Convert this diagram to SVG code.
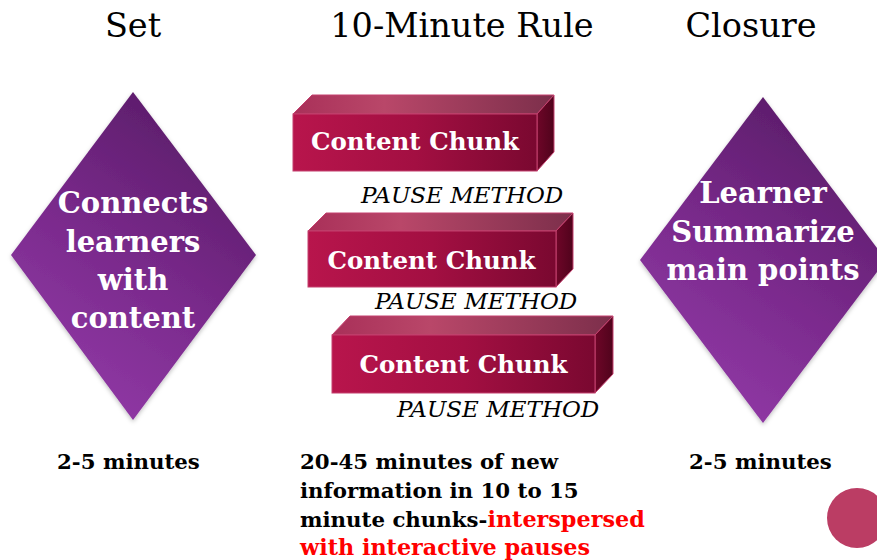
<svg xmlns="http://www.w3.org/2000/svg" width="877" height="560" viewBox="0 0 877 560">
  <style>
    .title { font-family: "DejaVu Serif", "Liberation Serif", serif; font-size: 33.5px; fill: #000; text-anchor: middle; }
    .dtext { font-family: "DejaVu Serif", "Liberation Serif", serif; font-size: 29px; font-weight: bold; fill: #fff; text-anchor: middle; }
    .ctext { font-family: "DejaVu Serif", "Liberation Serif", serif; font-size: 24.5px; font-weight: bold; fill: #fff; text-anchor: middle; }
    .pause { font-family: "DejaVu Serif", "Liberation Serif", serif; font-size: 23px; font-style: italic; fill: #000; }
    .note { font-family: "DejaVu Serif", "Liberation Serif", serif; font-size: 21.3px; font-weight: bold; fill: #000; }
    .red { fill: #ff0000; font-size: 22.3px; }
    .front { fill: url(#frontGrad); stroke: #c4406e; stroke-width: 1; }
    .top { fill: url(#topGrad); stroke: #c4406e; stroke-width: 1; }
    .side { fill: url(#sideGrad); stroke: #c4406e; stroke-width: 1; }
    .diamond { fill: url(#diamondGrad); filter: url(#soft); }
  </style>
  <defs>
    <linearGradient id="diamondGrad" x1="0.75" y1="0" x2="0.25" y2="0.95">
      <stop offset="0" stop-color="#581b66"/>
      <stop offset="0.55" stop-color="#7a2a8c"/>
      <stop offset="1" stop-color="#9139a6"/>
    </linearGradient>
    <linearGradient id="frontGrad" x1="0" y1="0" x2="1" y2="0">
      <stop offset="0" stop-color="#b8154c"/>
      <stop offset="0.5" stop-color="#a30f42"/>
      <stop offset="1" stop-color="#7a0830"/>
    </linearGradient>
    <linearGradient id="topGrad" x1="0" y1="0" x2="1" y2="0">
      <stop offset="0" stop-color="#a93059"/>
      <stop offset="0.35" stop-color="#b94769"/>
      <stop offset="1" stop-color="#7c2f4b"/>
    </linearGradient>
    <linearGradient id="sideGrad" x1="0" y1="0" x2="1" y2="0">
      <stop offset="0" stop-color="#6e0628"/>
      <stop offset="1" stop-color="#50031c"/>
    </linearGradient>
    <filter id="soft" x="-10%" y="-10%" width="120%" height="120%">
      <feDropShadow dx="0" dy="2" stdDeviation="2" flood-color="#000" flood-opacity="0.25"/>
    </filter>
  </defs>

  <!-- column headings -->
  <g id="headings">
    <text class="title" x="133" y="37">Set</text>
    <text class="title" x="462" y="37">10-Minute Rule</text>
    <text class="title" x="751" y="37">Closure</text>
  </g>

  <!-- opening phase -->
  <g id="set-node">
    <polygon class="diamond" points="133,92 256,255 133,420 11,255"/>
    <text class="dtext" x="133" y="213">Connects</text>
    <text class="dtext" x="133" y="252">learners</text>
    <text class="dtext" x="133" y="290">with</text>
    <text class="dtext" x="133" y="328">content</text>
  </g>

  <!-- closing phase -->
  <g id="closure-node">
    <polygon class="diamond" points="763,97 886,260 763,423 640,260"/>
    <text class="dtext" x="763" y="203">Learner</text>
    <text class="dtext" x="763" y="242">Summarize</text>
    <text class="dtext" x="763" y="280">main points</text>
  </g>

  <!-- content chunks -->
  <g id="chunk-1">
    <polygon class="top" points="293,114 312,95 554,95 537,114"/>
    <polygon class="side" points="537,114 554,95 554,152 537,171"/>
    <rect class="front" x="293" y="114" width="244" height="57"/>
    <text class="ctext" x="415" y="150">Content Chunk</text>
  </g>
  <text class="pause" x="361" y="203">PAUSE METHOD</text>

  <g id="chunk-2">
    <polygon class="top" points="308,231 326,213 573,213 556,231"/>
    <polygon class="side" points="556,231 573,213 573,269 556,287"/>
    <rect class="front" x="308" y="231" width="248" height="56"/>
    <text class="ctext" x="431.5" y="269">Content Chunk</text>
  </g>
  <text class="pause" x="375" y="309">PAUSE METHOD</text>

  <g id="chunk-3">
    <polygon class="top" points="332,335 350,316 613,316 595,335"/>
    <polygon class="side" points="595,335 613,316 613,374 595,393"/>
    <rect class="front" x="332" y="335" width="263" height="58"/>
    <text class="ctext" x="463.5" y="373">Content Chunk</text>
  </g>
  <text class="pause" x="397" y="417">PAUSE METHOD</text>

  <!-- timing notes -->
  <g id="notes">
    <text class="note" x="57" y="469">2-5 minutes</text>
    <text class="note" x="689" y="469">2-5 minutes</text>
    <text class="note" x="300" y="469">20-45 minutes of new</text>
    <text class="note" x="300" y="498">information in 10 to 15</text>
    <text class="note" x="300" y="527">minute chunks-<tspan class="red">interspersed</tspan></text>
    <text class="note red" x="300" y="555">with interactive pauses</text>
  </g>

  <circle cx="857" cy="518" r="30" fill="#bb3d64"/>

  <g id="connectors"/>
</svg>
